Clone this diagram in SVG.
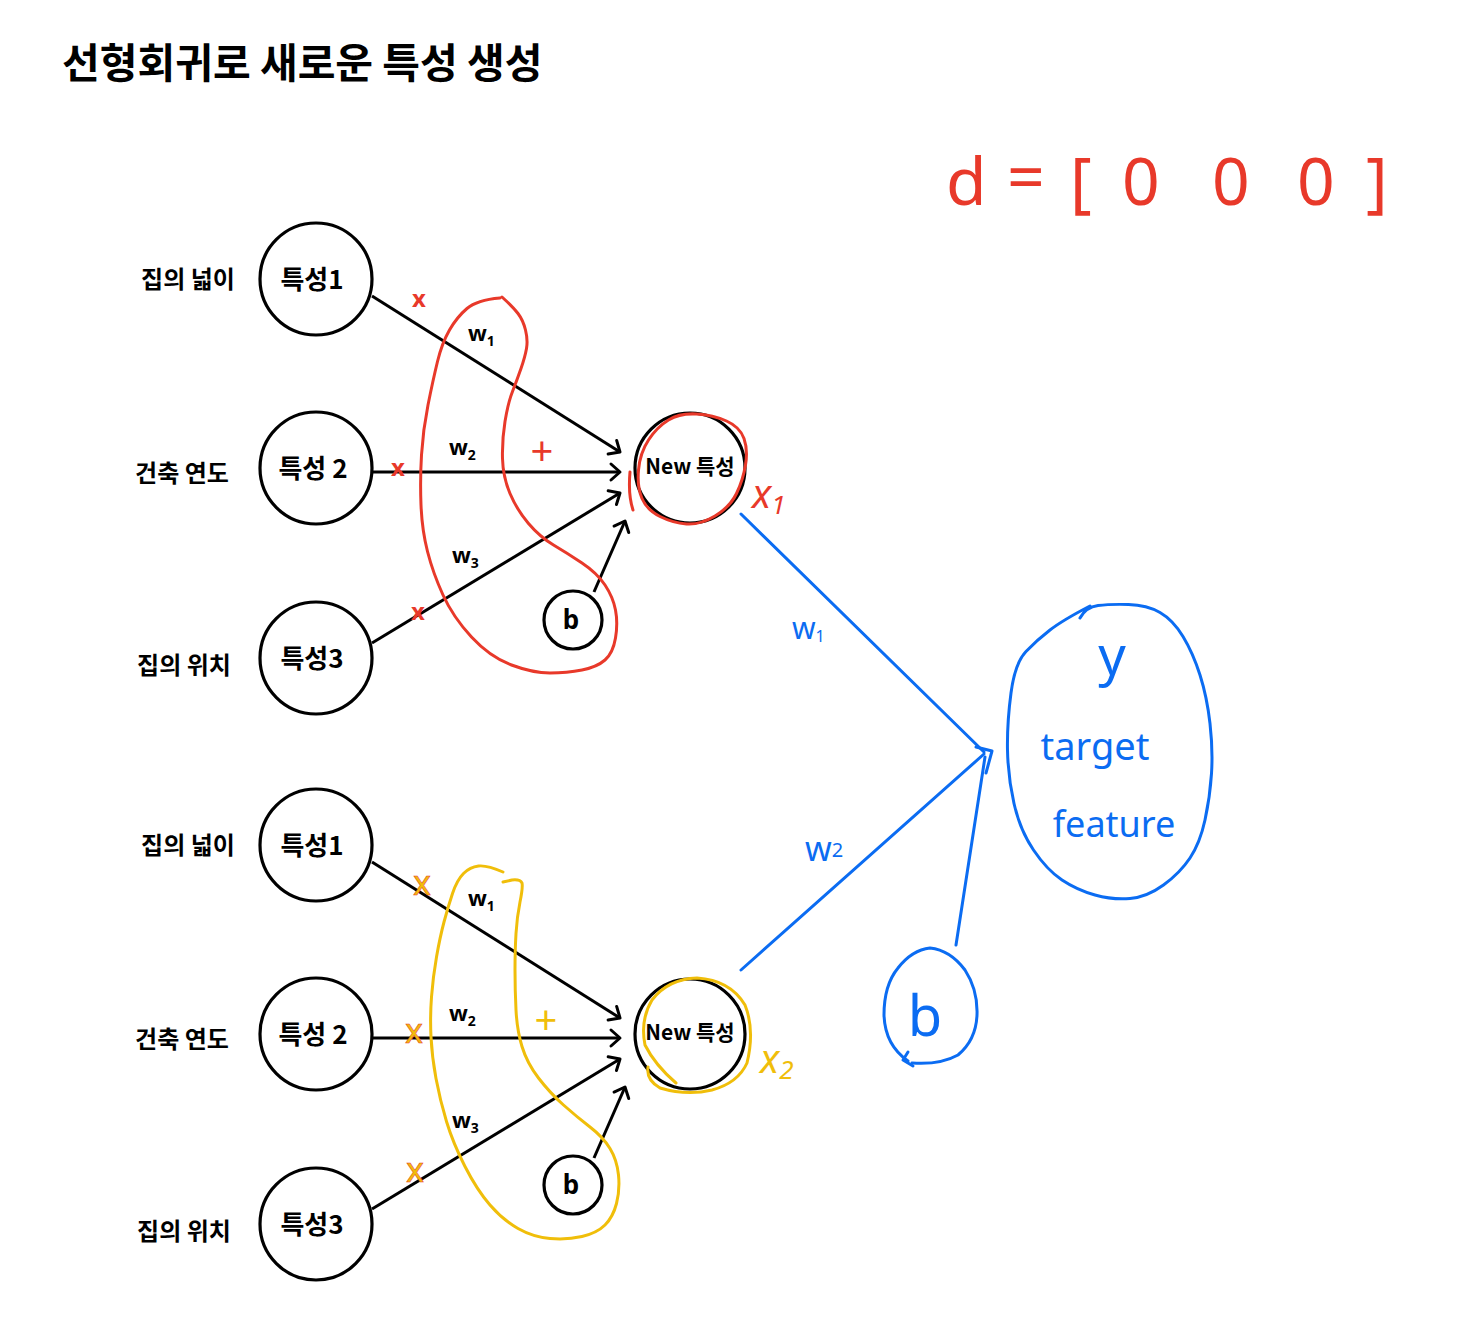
<svg xmlns="http://www.w3.org/2000/svg" width="1476" height="1337" viewBox="0 0 1476 1337">
<defs>
<style>
.ko{font-family:"Noto Sans CJK KR","Noto Sans",sans-serif;}
.en{font-family:"Noto Sans","Liberation Sans",sans-serif;}
.node{fill:#fff;stroke:#000;stroke-width:3.2;}
.lbl{font-size:24px;font-weight:700;fill:#000;text-anchor:middle;}
.ftxt{font-size:26px;font-weight:700;fill:#000;text-anchor:middle;}
.edge{stroke:#000;stroke-width:3;fill:none;marker-end:url(#chev);}
.red{stroke:#E8392A;stroke-width:3;fill:none;stroke-linecap:round;stroke-linejoin:round;}
.yel{stroke:#F0BE0A;stroke-width:3;fill:none;stroke-linecap:round;stroke-linejoin:round;}
.blu{stroke:#0B6CF2;stroke-width:3;fill:none;stroke-linecap:round;stroke-linejoin:round;}
.w{font-size:22px;font-weight:700;fill:#000;}
</style>
<marker id="chev" markerUnits="userSpaceOnUse" markerWidth="24" markerHeight="24" refX="12" refY="12" orient="auto" viewBox="0 0 24 24">
<path d="M3,4 L12,12 L3,20" fill="none" stroke="#000" stroke-width="3" stroke-linecap="round" stroke-linejoin="round"/>
</marker>
</defs>
<rect width="1476" height="1337" fill="#fff"/>

<text x="62" y="78" class="ko" font-size="41" font-weight="700" fill="#000">선형회귀로 새로운 특성 생성</text>

<!-- side labels -->
<g id="labels-top" class="ko">
<text x="188" y="288" class="lbl">집의 넓이</text>
<text x="182" y="482" class="lbl">건축 연도</text>
<text x="184" y="674" class="lbl">집의 위치</text>
</g>
<g id="labels-bottom" class="ko">
<text x="188" y="854" class="lbl">집의 넓이</text>
<text x="182" y="1048" class="lbl">건축 연도</text>
<text x="184" y="1240" class="lbl">집의 위치</text>
</g>

<!-- connectors -->
<g id="connectors">
<line class="edge" x1="372" y1="296" x2="620" y2="452"/>
<line class="edge" x1="372" y1="472" x2="620" y2="472"/>
<line class="edge" x1="372" y1="643" x2="620" y2="493"/>
<line class="edge" x1="594" y1="592" x2="625" y2="521"/>
<line class="edge" x1="372" y1="862" x2="620" y2="1018"/>
<line class="edge" x1="372" y1="1038" x2="620" y2="1038"/>
<line class="edge" x1="372" y1="1209" x2="620" y2="1059"/>
<line class="edge" x1="594" y1="1158" x2="625" y2="1087"/>
<line class="blu" x1="741" y1="514" x2="984" y2="752"/>
<line class="blu" x1="741" y1="970" x2="984" y2="754"/>
<line class="blu" x1="956" y1="945" x2="985" y2="757"/>
<path class="blu" d="M976,747 L992,751 L986,773"/>
</g>

<!-- top network nodes -->
<g id="f1-top"><circle class="node" cx="316" cy="279" r="56"/><text x="312" y="289" class="ko ftxt">특성1</text></g>
<g id="f2-top"><circle class="node" cx="316" cy="468" r="56"/><text x="313" y="478" class="ko ftxt">특성 2</text></g>
<g id="f3-top"><circle class="node" cx="316" cy="658" r="56"/><text x="312" y="668" class="ko ftxt">특성3</text></g>
<g id="new-top"><circle class="node" cx="690" cy="468" r="55"/><text x="690" y="474" class="ko" font-size="21" font-weight="700" text-anchor="middle">New 특성</text></g>
<g id="b-top"><circle class="node" cx="573" cy="620" r="29"/><text x="571" y="629" class="en" font-size="26" font-weight="700" text-anchor="middle">b</text></g>

<!-- bottom network nodes -->
<g id="f1-bot"><circle class="node" cx="316" cy="845" r="56"/><text x="312" y="855" class="ko ftxt">특성1</text></g>
<g id="f2-bot"><circle class="node" cx="316" cy="1034" r="56"/><text x="313" y="1044" class="ko ftxt">특성 2</text></g>
<g id="f3-bot"><circle class="node" cx="316" cy="1224" r="56"/><text x="312" y="1234" class="ko ftxt">특성3</text></g>
<g id="new-bot"><circle class="node" cx="690" cy="1034" r="55"/><text x="690" y="1040" class="ko" font-size="21" font-weight="700" text-anchor="middle">New 특성</text></g>
<g id="b-bot"><circle class="node" cx="573" cy="1185" r="29"/><text x="571" y="1194" class="en" font-size="26" font-weight="700" text-anchor="middle">b</text></g>

<!-- weight labels -->
<g id="weights" class="en">
<text x="468" y="341" class="w">w<tspan font-size="14" dy="5">1</tspan></text>
<text x="449" y="455" class="w">w<tspan font-size="14" dy="5">2</tspan></text>
<text x="452" y="563" class="w">w<tspan font-size="14" dy="5">3</tspan></text>
<text x="468" y="906" class="w">w<tspan font-size="14" dy="5">1</tspan></text>
<text x="449" y="1021" class="w">w<tspan font-size="14" dy="5">2</tspan></text>
<text x="452" y="1128" class="w">w<tspan font-size="14" dy="5">3</tspan></text>
</g>

<!-- red annotations (top) -->
<g id="red-notes">
<path class="red" d="M500,298 Q477,300 467,308.5 Q457,317 449.5,330 Q442,343 437.5,361.5 Q433,380 428,405 Q423,430 421.5,455 Q420,480 421,505 Q422,530 427.5,551.5 Q433,573 443,595 Q453,617 471.5,637 Q490,657 511.5,665 Q533,673 550,673 Q567,673 582,670 Q597,667 605,660 Q613,653 615.5,638 Q618,623 615.5,610 Q613,597 605,585 Q597,573 582,563 Q567,553 553.5,545 Q540,537 528.5,523.5 Q517,510 510,493.5 Q503,477 502.5,458.5 Q502,440 505,421.5 Q508,403 512.5,391.5 Q517,380 521,368.5 Q525,357 526.5,348.5 Q528,340 525.5,330 Q523,320 518,313.5 Q513,307 502,297"/>
<path class="red" d="M642,498.5 Q637,487 638.5,470 Q640,453 648.5,440 Q657,427 668.5,420 Q680,413 696.5,414 Q713,415 726.5,421 Q740,427 744,438.5 Q748,450 745.5,465 Q743,480 736.5,493.5 Q730,507 715,516 Q700,525 686.5,524 Q673,523 660,516.5 Q647,510 642,498.5 Z"/>
<path class="red" d="M630,472 Q628,495 633,510"/>
<text x="419" y="307" class="en" font-size="24" font-weight="700" fill="#E8392A" text-anchor="middle">x</text>
<text x="398" y="476" class="en" font-size="24" font-weight="700" fill="#E8392A" text-anchor="middle">x</text>
<text x="418" y="620" class="en" font-size="24" font-weight="700" fill="#E8392A" text-anchor="middle">x</text>
<text x="542" y="465" class="en" font-size="40" fill="#E8392A" text-anchor="middle">+</text>
<text x="752" y="508" class="en" font-size="40" font-style="italic" fill="#E8392A">x<tspan font-size="26" dy="6">1</tspan></text>
</g>

<!-- yellow annotations (bottom) -->
<g id="yellow-notes">
<path class="yel" d="M503,872 Q487,865 478.5,866 Q470,867 463.5,873.5 Q457,880 452.5,893.5 Q448,907 444,922 Q440,937 436.5,957 Q433,977 431.5,997 Q430,1017 431,1037 Q432,1057 436,1078.5 Q440,1100 446.5,1121.5 Q453,1143 465,1166.5 Q477,1190 490,1205 Q503,1220 518,1228.5 Q533,1237 550,1238.5 Q567,1240 582,1236.5 Q597,1233 605,1225 Q613,1217 616.5,1203.5 Q620,1190 618.5,1175 Q617,1160 610,1148.5 Q603,1137 590,1127 Q577,1117 563.5,1105 Q550,1093 538.5,1078 Q527,1063 522,1046.5 Q517,1030 516,1010 Q515,990 515,970 Q515,950 516,933.5 Q517,917 520,902 Q523,887 522,883 Q520,879 512,880 L503,882"/>
<path class="yel" d="M676,1083 Q655,1065 645,1045 Q640,1020 652,1000 Q668,979 697,978 Q730,980 745,1005 Q755,1030 747,1063 Q738,1083 712,1090 Q687,1096 660,1088 Q646,1080 648,1067"/>
<text x="422" y="895" class="en" font-size="34" fill="#F0BE0A" stroke="#E8392A" stroke-width="0.5" text-anchor="middle">x</text>
<text x="414" y="1043" class="en" font-size="34" fill="#F0BE0A" stroke="#E8392A" stroke-width="0.5" text-anchor="middle">x</text>
<text x="415" y="1182" class="en" font-size="34" fill="#F0BE0A" stroke="#E8392A" stroke-width="0.5" text-anchor="middle">x</text>
<text x="546" y="1034" class="en" font-size="40" fill="#F0BE0A" text-anchor="middle">+</text>
<text x="760" y="1073" class="en" font-size="40" font-style="italic" fill="#F0BE0A">x<tspan font-size="26" dy="6">2</tspan></text>
</g>

<!-- d vector -->
<text id="d-vector" class="en" font-size="66" fill="#E8392A" y="205"><tspan x="946">d</tspan><tspan x="1007" y="200">=</tspan><tspan x="1070" y="205">[</tspan><tspan x="1122">0</tspan><tspan x="1212">0</tspan><tspan x="1297">0</tspan><tspan x="1366">]</tspan></text>

<!-- blue part -->
<g id="blue-weights" class="en" fill="#0B6CF2">
<text x="792" y="639" font-size="30">w<tspan font-size="16" dy="3">1</tspan></text>
<text x="805" y="861" font-size="34">w<tspan font-size="20" dy="-4">2</tspan></text>
</g>
<g id="target">
<path class="blu" d="M1080,618 Q1086,607 1098,605.5 Q1110,604 1128.5,604.5 Q1147,605 1160,612.5 Q1173,620 1183,636.5 Q1193,653 1200,675 Q1207,697 1210,723.5 Q1213,750 1211.5,773.5 Q1210,797 1205,820 Q1200,843 1190,858 Q1180,873 1163.5,885 Q1147,897 1130,898.5 Q1113,900 1095,895 Q1077,890 1062,880 Q1047,870 1033.5,850 Q1020,830 1014,803.5 Q1008,777 1007.5,750 Q1007,723 1011,693 Q1015,663 1026,651.5 Q1037,640 1050,630 Q1063,620 1090,606"/>
<text x="1112" y="675" class="en" font-size="54" fill="#0B6CF2" text-anchor="middle">y</text>
<text x="1095" y="760" class="en" font-size="38" fill="#0B6CF2" text-anchor="middle">target</text>
<text x="1114" y="837" class="en" font-size="36" fill="#0B6CF2" text-anchor="middle">feature</text>
</g>
<g id="b-blue">
<path class="blu" d="M908,1061 Q885,1045 884,1015 Q884,985 898,968 Q912,950 930,948 Q950,950 965,970 Q978,990 977,1015 Q976,1040 958,1055 Q940,1065 912,1063"/>
<path class="blu" d="M908,1052 L903,1060 L913,1066"/>
<text x="925" y="1036" class="en" font-size="56" fill="#0B6CF2" text-anchor="middle">b</text>
</g>
</svg>
